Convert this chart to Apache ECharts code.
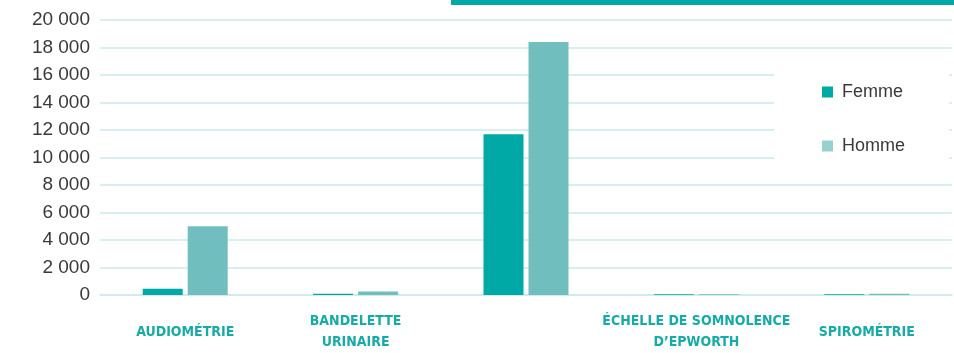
<!DOCTYPE html>
<html>
<head>
<meta charset="utf-8">
<script src="https://cdn.jsdelivr.net/npm/echarts@6/dist/echarts.min.js"></script>
<style>html,body{margin:0;padding:0;background:#fff;}#c{width:954px;height:353px;}</style>
</head>
<body>
<div id="c"></div>
<script>
const categories = ['AUDIOMÉTRIE', 'BANDELETTE\nURINAIRE', '', 'ÉCHELLE DE SOMNOLENCE\nD\u2019EPWORTH', 'SPIROMÉTRIE'];
const femme = [450, 100, 11700, 50, 50];
const homme = [5000, 250, 18400, 50, 100];
const seriesNames = ['Femme', 'Homme'];

const SANS = "'Liberation Sans', Arial, sans-serif";
const COND = "'DejaVu Sans Condensed', 'Liberation Sans', sans-serif";
const chart = echarts.init(document.getElementById('c'), null, { renderer: 'canvas' });
chart.setOption({
  animation: false,
  backgroundColor: '#fff',
  graphic: [{
    type: 'rect', left: 451, top: 0, shape: { width: 503, height: 5 },
    style: { fill: '#00a9a5' }, z: 10
  }],
  grid: { left: 100, right: 2, top: 20, height: 280, containLabel: false },
  legend: {
    orient: 'vertical', left: 774, top: 55,
    backgroundColor: '#fff',
    padding: [25, 44, 16, 48],
    itemGap: 30, itemWidth: 11, itemHeight: 11, icon: 'rect',
    textStyle: { fontFamily: SANS, fontSize: 18, color: '#3a3a3a', lineHeight: 24, padding: [0, 0, 0, 4] },
    data: [
      { name: seriesNames[0], itemStyle: { color: '#00a9a5' } },
      { name: seriesNames[1], itemStyle: { color: '#98d0cf' } }
    ]
  },
  xAxis: {
    type: 'category', data: categories,
    axisLine: { show: true, lineStyle: { color: '#cde9ec', width: 1.5 } },
    axisTick: { show: false },
    axisLabel: {
      interval: 0, margin: 37, verticalAlign: 'middle',
      fontFamily: COND, fontWeight: 'bold', fontSize: 14, color: '#17aaa6', lineHeight: 21
    }
  },
  yAxis: {
    type: 'value', min: 0, max: 20000, interval: 2000,
    axisLine: { show: false }, axisTick: { show: false },
    splitLine: { lineStyle: { color: '#cde9ec', width: 1.5 } },
    axisLabel: {
      margin: 10, fontFamily: SANS, fontSize: 19, color: '#3a3a3a',
      formatter: v => String(v).replace(/\B(?=(\d{3})+(?!\d))/g, ' ')
    }
  },
  series: [
    { name: seriesNames[0], type: 'bar', data: femme, barWidth: 40, barGap: '12.5%', itemStyle: { color: '#00a9a5' } },
    { name: seriesNames[1], type: 'bar', data: homme, barWidth: 40, barGap: '12.5%', itemStyle: { color: '#70bfbe' } }
  ]
});
</script>
</body>
</html>
